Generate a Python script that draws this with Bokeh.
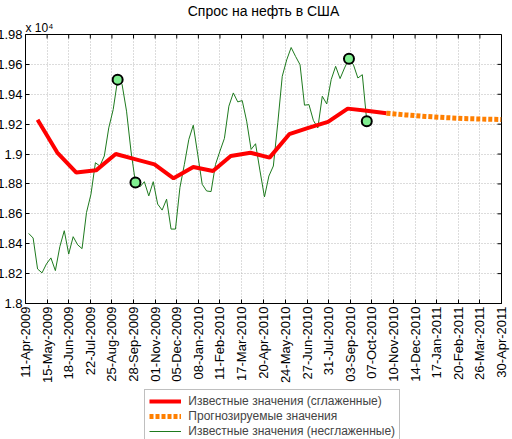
import math
import pandas as pd
from bokeh.plotting import figure
from bokeh.layouts import column
from bokeh.models import FixedTicker, Legend, LegendItem, Range1d, Title
from bokeh.embed import file_html
from bokeh.resources import INLINE

# ---------------- data ----------------
x_start = "2009-04-11"
x_end = "2011-04-30"
x_tick_labels = ["11-Apr-2009", "15-May-2009", "18-Jun-2009", "22-Jul-2009", "25-Aug-2009",
                 "28-Sep-2009", "01-Nov-2009", "05-Dec-2009", "08-Jan-2010", "11-Feb-2010",
                 "17-Mar-2010", "20-Apr-2010", "24-May-2010", "27-Jun-2010", "31-Jul-2010",
                 "03-Sep-2010", "07-Oct-2010", "10-Nov-2010", "14-Dec-2010", "17-Jan-2011",
                 "20-Feb-2011", "26-Mar-2011", "30-Apr-2011"]
y_ticks = [18000, 18200, 18400, 18600, 18800, 19000, 19200, 19400, 19600, 19800]
y_tick_labels = ["1.8", "1.82", "1.84", "1.86", "1.88", "1.9", "1.92", "1.94", "1.96", "1.98"]

smooth_dates = ["2009-04-30", "2009-05-31", "2009-06-30", "2009-07-31", "2009-08-31",
                "2009-09-30", "2009-10-31", "2009-11-30", "2009-12-31", "2010-01-31",
                "2010-02-28", "2010-03-31", "2010-04-30", "2010-05-31", "2010-06-30",
                "2010-07-31", "2010-08-31", "2010-09-30", "2010-10-31"]
smooth_values = [19230, 19010, 18876, 18891, 19000, 18966, 18931, 18838, 18913, 18887,
                 18987, 19009, 18976, 19133, 19175, 19215, 19304, 19290, 19273]

forecast_dates = ["2010-10-31", "2010-11-30", "2010-12-31", "2011-01-31", "2011-02-28",
                  "2011-03-31", "2011-04-30"]
forecast_values = [19273, 19262, 19252, 19244, 19238, 19234, 19231]

raw_start = "2009-04-16"
raw_values = [18469, 18438, 18231, 18205, 18265, 18305, 18220, 18380, 18487, 18331,
              18447, 18393, 18367, 18609, 18731, 18942, 18920, 18987, 19175, 19298,
              19498, 19465, 19287, 19020, 18809, 18780, 18815, 18720, 18815, 18665,
              18625, 18698, 18498, 18498, 18776, 18931, 19098, 19193, 18998, 18798,
              18753, 18749, 18931, 19020, 19105, 19320, 19409, 19349, 19358, 19220,
              19031, 19069, 18887, 18713, 18853, 18920, 19209, 19520, 19630, 19713,
              19653, 19598, 19327, 19331, 19225, 19175, 19387, 19335, 19498, 19587,
              19505, 19576, 19638, 19598, 19509, 19531, 19220]
marker_idx = [20, 24, 72, 76]

title_text = "Спрос на нефть в США"
exponent_text = "x 10⁴"
legend_labels = ["Известные значения (сглаженные)", "Прогнозируемые значения",
                 "Известные значения (несглаженные)"]

# ---------------- helpers ----------------
t0 = pd.Timestamp(x_start)
def days(ds):
    return [(pd.Timestamp(d) - t0).days for d in ds]

x_end_d = (pd.Timestamp(x_end) - t0).days
n_ticks = len(x_tick_labels)
x_ticks = [int(round(x_end_d * k / (n_ticks - 1))) for k in range(n_ticks)]
raw_dates = list(pd.date_range(raw_start, periods=len(raw_values), freq="7D"))
raw_x = days(raw_dates)
mk_x = [raw_x[i] for i in marker_idx]
mk_y = [raw_values[i] for i in marker_idx]
smooth_x = days(smooth_dates)
forecast_x = days(forecast_dates)

FONT = "Liberation Sans"
RED, ORANGE, GREEN = "#ff0000", "#ff7f00", "#1e7a1e"

p = figure(frame_width=482, frame_height=269, output_backend="svg", toolbar_location=None,
           x_range=Range1d(0, x_end_d), y_range=Range1d(18000, 19800),
           min_border_left=0, min_border_right=3, min_border_top=0, min_border_bottom=0,
           margin=(0, 0, 0, -6))
p.title.text = title_text
p.title.align = "center"
p.title.text_font = FONT
p.title.text_font_size = "14px"
p.title.text_font_style = "normal"
p.title.text_color = "black"
p.title.standoff = 0

exp_title = Title(text=exponent_text, align="left", text_font=FONT, text_font_size="12px",
                  text_font_style="normal", text_color="black", standoff=0)
p.add_layout(exp_title, "above")

p.background_fill_color = "white"
p.outline_line_color = "black"
p.outline_line_alpha = 1

# axes
p.xaxis.ticker = FixedTicker(ticks=x_ticks)
p.xaxis.major_label_overrides = {x_ticks[i]: x_tick_labels[i] for i in range(n_ticks)}
p.xaxis.major_label_orientation = math.pi / 2
p.yaxis.ticker = FixedTicker(ticks=y_ticks)
p.yaxis.major_label_overrides = {y_ticks[i]: y_tick_labels[i] for i in range(len(y_ticks))}
for ax in (p.xaxis[0], p.yaxis[0]):
    ax.major_label_text_font = FONT
    ax.major_label_text_font_size = "13px"
    ax.major_label_text_color = "black"
    ax.major_tick_in = 4
    ax.major_tick_out = 0
    ax.minor_tick_line_color = None
    ax.axis_line_color = "black"
    ax.major_tick_line_color = "black"
    ax.major_label_standoff = 3

p.xgrid.ticker = FixedTicker(ticks=x_ticks)
p.ygrid.ticker = FixedTicker(ticks=y_ticks)
for g in (p.xgrid[0], p.ygrid[0]):
    g.grid_line_color = "#b8b8b8"
    g.grid_line_dash = "1 2"
    g.grid_line_width = 1

# tick marks on top and right edges of the box
p.ray(x_ticks, [19800] * n_ticks, length=4, length_units="screen", angle=-math.pi / 2,
      line_color="black", line_width=1)
p.ray([x_end_d] * len(y_ticks), y_ticks, length=4, length_units="screen", angle=math.pi,
      line_color="black", line_width=1)

# glyphs
p.line(raw_x, raw_values, line_color=GREEN, line_width=1)
p.line(smooth_x, smooth_values, line_color=RED, line_width=4)
p.line(forecast_x, forecast_values, line_color=ORANGE, line_width=5, line_dash="4 2")
p.scatter(mk_x, mk_y, size=10, fill_color="#80ee90", line_color="black", line_width=2)

# ---------------- legend (separate strip below the plot) ----------------
lg = figure(frame_width=482, height=57, output_backend="svg", toolbar_location=None,
            x_range=Range1d(-1e6, -1e6 + 1), y_range=Range1d(0, 1),
            min_border_left=25, min_border_right=3, min_border_top=0, min_border_bottom=0,
            margin=(0, 0, 0, -6))
lg.axis.visible = False
lg.grid.visible = False
lg.outline_line_color = None
l_smooth = lg.line(smooth_x, smooth_values, line_color=RED, line_width=4)
l_fc = lg.line(forecast_x, forecast_values, line_color=ORANGE, line_width=5, line_dash="4 2")
l_raw = lg.line(raw_x, raw_values, line_color=GREEN, line_width=1)

legend = Legend(items=[LegendItem(label=legend_labels[0], renderers=[l_smooth]),
                       LegendItem(label=legend_labels[1], renderers=[l_fc]),
                       LegendItem(label=legend_labels[2], renderers=[l_raw])],
                location=(141, 0), orientation="vertical",
                label_text_font=FONT, label_text_font_size="12px",
                glyph_width=32, glyph_height=14, label_height=14, spacing=1,
                padding=4, margin=0, label_standoff=7,
                border_line_color="#808080", background_fill_alpha=1)
lg.add_layout(legend, "center")

layout = column(p, lg, spacing=0)
open("out.html", "w").write(file_html(layout, INLINE))
